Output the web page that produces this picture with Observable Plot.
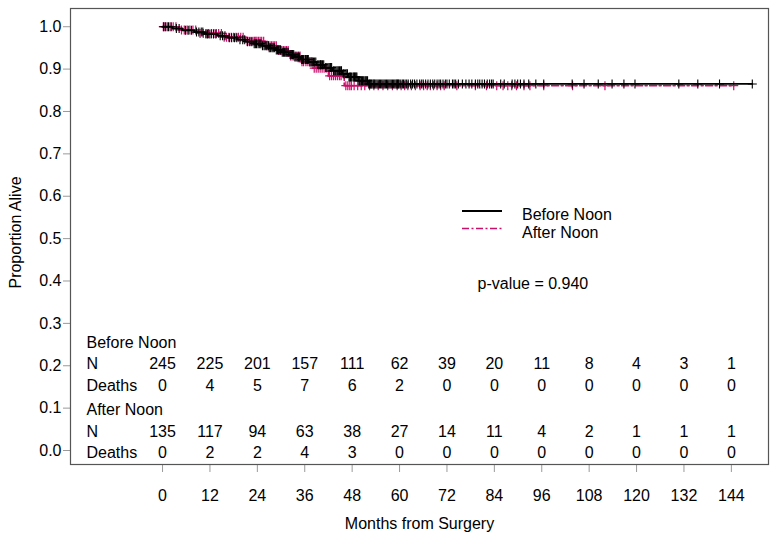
<!DOCTYPE html>
<html>
<head>
<meta charset="utf-8">
<script src="https://cdn.jsdelivr.net/npm/d3@7"></script>
<script src="https://cdn.jsdelivr.net/npm/@observablehq/plot@0.6"></script>
<style>
  html, body { margin: 0; padding: 0; background: #fff; }
  svg [aria-label*="axis"] line, svg [aria-label*="axis tick"] path { stroke: #9a9a9a; }
</style>
</head>
<body>
<div id="chart"></div>
<script>
// ---- Data ----
const groups = ["Before Noon", "After Noon"];
const colors = ["#000000", "#c8106a"];

// Kaplan-Meier step points (month, proportion alive)
const beforeMonths = [0, 2.5, 5, 8, 10.5, 14, 16.5, 19, 21, 23, 25, 27, 28.5, 30, 32, 33.5, 35, 37, 39, 41, 43, 45.5, 47, 49.5, 52, 149.3];
const beforeSurv   = [1, 0.9958, 0.9916, 0.9873, 0.9830, 0.9786, 0.9741, 0.9695, 0.9648, 0.9601, 0.9552, 0.9502, 0.9450, 0.9397, 0.9342, 0.9285, 0.9227, 0.9166, 0.9102, 0.9035, 0.8964, 0.8889, 0.8811, 0.8726, 0.8650, 0.8650];
const afterMonths  = [0, 4, 9, 15, 21, 26, 29, 32, 35, 38, 42, 46, 144.6];
const afterSurv    = [1, 0.9923, 0.9842, 0.9754, 0.9657, 0.9549, 0.9436, 0.9311, 0.9174, 0.9021, 0.8841, 0.8610, 0.8610];

// Censoring times (months)
const beforeCensor = [0.3, 0.8, 1.5, 2.2, 3.5, 4.2, 5.8, 6.5, 7.3, 8.6, 9.2, 9.8, 10.2, 11.0, 11.4, 11.8,
  12.3, 12.9, 13.5, 14.6, 15.2, 15.8, 16.9, 17.5, 18.2, 18.8, 19.6, 20.3, 20.8, 21.5, 22.1, 22.6, 23.2, 23.5, 23.8,
  24.2, 24.6, 24.9, 25.3, 25.7, 26.0, 26.4, 26.8, 27.0, 27.3, 27.7, 28.0, 28.3, 28.8, 29.1, 29.4, 29.7, 29.9, 30.3, 30.6, 30.9, 31.2, 31.5, 31.8, 32.3, 32.6, 32.9, 33.2, 33.5, 33.8, 34.1, 34.4, 34.7, 35.2, 35.4, 35.6, 35.8,
  36.2, 36.4, 36.7, 36.9, 37.3, 37.6, 37.9, 38.2, 38.5, 38.8, 39.3, 39.6, 39.9, 40.0, 40.2, 40.5, 40.8, 41.3, 41.6, 41.9, 42.2, 42.5, 42.8, 43.3, 43.6, 43.9, 44.2, 44.5, 44.8, 45.1, 45.3, 45.7, 45.9, 46.2, 46.5, 46.8, 47.2, 47.4, 47.6, 47.8,
  48.2, 48.4, 48.6, 48.8, 49.0, 49.2, 49.7, 49.9, 50.2, 50.4, 50.6, 50.8, 51.0, 51.3, 51.5, 51.7, 51.9, 52.2, 52.4, 52.6, 52.8, 53.0, 53.3, 53.5, 53.7, 54.0, 54.3, 54.6, 54.9, 55.2, 55.5, 55.8, 56.1, 56.4, 56.7, 57.0, 57.3, 57.6, 57.9, 58.2, 58.5, 58.8, 59.1, 59.3, 59.5, 59.7, 59.9,
  60.3, 60.7, 61.0, 61.4, 61.8, 62.2, 62.8, 63.3, 63.8, 64.4, 65.1, 65.6, 66.0, 66.6, 67.2, 67.8, 68.4, 68.9, 69.5, 70.0, 70.4, 71.0, 71.6,
  72.0, 72.6, 73.4, 73.8, 74.2, 74.9, 75.9, 76.8, 77.6, 78.3, 79.2, 79.8, 80.3, 80.9, 81.5, 82.2, 82.8, 83.3, 83.7,
  85.6, 86.5, 88.5, 89.2, 89.9, 90.6, 91.5, 92.7, 94.5,
  96.5, 103.7, 106.7, 110.3, 113.8, 116.8, 119.6, 130.7, 135.5, 141.0, 149.3];
const afterCensor = [0.2, 0.6, 1.2, 1.9, 2.7, 3.4, 4.8, 5.5, 6.2, 6.9, 7.7, 8.4, 9.5, 10.3, 11.0, 11.6,
  12.4, 13.0, 13.6, 14.2, 14.9, 15.6, 16.2, 16.8, 17.4, 18.0, 18.6, 19.2, 19.8, 20.4, 21.4, 21.9, 22.4, 22.9, 23.3, 23.6, 23.9,
  24.3, 24.7, 25.1, 25.6, 26.4, 26.8, 27.2, 27.6, 28.0, 28.4, 28.8, 29.4, 29.8, 30.2, 30.6, 31.0, 31.4, 31.8, 32.4, 32.8, 33.2, 33.6, 34.0, 34.4, 34.8, 35.3, 35.7,
  36.3, 36.8, 37.3, 37.8, 38.4, 38.9, 39.4, 39.9, 40.4, 40.9, 41.4, 42.3, 42.8, 43.3, 43.8, 44.3, 44.8, 45.2, 46.4, 46.9, 47.4, 47.8,
  48.5, 49.4, 50.3, 51.2, 52.4, 53.5, 54.6, 55.8, 57.0, 58.2, 59.4,
  60.4, 61.3, 62.1, 63.0, 64.0, 65.2, 66.1, 67.0, 67.8, 68.6, 69.5, 70.4, 71.3,
  74.5, 79.2, 82.0, 84.6, 86.2, 87.4, 88.4, 89.6, 91.5, 93.0,
  96.5, 103.8, 112.0, 144.6];

// Risk table
const tableMonths  = [0, 12, 24, 36, 48, 60, 72, 84, 96, 108, 120, 132, 144];
const beforeN      = [245, 225, 201, 157, 111, 62, 39, 20, 11, 8, 4, 3, 1];
const beforeDeaths = [0, 4, 5, 7, 6, 2, 0, 0, 0, 0, 0, 0, 0];
const afterN       = [135, 117, 94, 63, 38, 27, 14, 11, 4, 2, 1, 1, 1];
const afterDeaths  = [0, 2, 2, 4, 3, 0, 0, 0, 0, 0, 0, 0, 0];

const xTicks = tableMonths;
const yTicks = [0, 0.1, 0.2, 0.3, 0.4, 0.5, 0.6, 0.7, 0.8, 0.9, 1.0];
const pValueText = "p-value = 0.940";
const xLabel = "Months from Surgery";
const yLabel = "Proportion Alive";

// ---- Build tables ----
const curves = [
  ...beforeMonths.map((m, i) => ({group: groups[0], month: m, surv: beforeSurv[i]})),
  ...afterMonths.map((m, i) => ({group: groups[1], month: m, surv: afterSurv[i]}))
];
function survAt(months, surv, t) {
  let s = surv[0];
  for (let i = 0; i < months.length; i++) if (months[i] <= t) s = surv[i];
  return s;
}
const censors = [
  ...beforeCensor.map(t => ({group: groups[0], month: t, surv: survAt(beforeMonths, beforeSurv, t)})),
  ...afterCensor.map(t => ({group: groups[1], month: t, surv: survAt(afterMonths, afterSurv, t)}))
];

const plusSymbol = {
  draw(ctx, size) {
    const r = Math.sqrt(size / Math.PI);
    ctx.moveTo(-r, 0); ctx.lineTo(r, 0);
    ctx.moveTo(0, -r); ctx.lineTo(0, r);
  }
};

const FONT = "'Liberation Sans', Arial, sans-serif";
const rowTop = 8; // frame top in px
function row(values, dyPx) {
  return Plot.text(values.map((v, i) => ({month: tableMonths[i], v})), {
    x: "month", text: d => String(d.v), frameAnchor: "top", lineAnchor: "middle", dy: dyPx - rowTop,
    fill: "#000", fontSize: 16
  });
}
function rowLabel(label, dyPx) {
  return Plot.text([label], {frameAnchor: "top-left", lineAnchor: "middle", dx: 16, dy: dyPx - rowTop, textAnchor: "start", fill: "#000", fontSize: 16});
}

const chart = Plot.plot({
  width: 776,
  height: 545,
  marginLeft: 70,
  marginRight: 8,
  marginTop: 8,
  marginBottom: 81,
  style: {fontFamily: FONT, fontSize: "16px", background: "#fff", color: "#000"},
  x: {domain: [-23.3, 153.4], ticks: xTicks, tickSize: 8, tickPadding: 17, label: null},
  y: {domain: [-0.033, 1.043], ticks: yTicks, tickFormat: d3.format(".1f"), tickSize: 7, tickPadding: 2, label: null},
  color: {domain: groups, range: colors},
  marks: [
    Plot.frame({stroke: "#555", strokeWidth: 1.2}),
    Plot.line(curves.filter(d => d.group === groups[1]), {x: "month", y: "surv", curve: "step-after", stroke: colors[1], strokeWidth: 1.6, strokeDasharray: "7,2.5,2,2.5"}),
    Plot.dot(censors.filter(d => d.group === groups[1]), {x: "month", y: "surv", symbol: plusSymbol, r: 4.5, fill: "none", stroke: colors[1], strokeWidth: 1.2}),
    Plot.line(curves.filter(d => d.group === groups[0]), {x: "month", y: "surv", curve: "step-after", stroke: colors[0], strokeWidth: 1.8}),
    Plot.dot(censors.filter(d => d.group === groups[0]), {x: "month", y: "surv", symbol: plusSymbol, r: 4.5, fill: "none", stroke: colors[0], strokeWidth: 1.1}),
    // risk table
    rowLabel(groups[0], 342.5),
    rowLabel("N", 363.5),
    rowLabel("Deaths", 385),
    rowLabel(groups[1], 409),
    rowLabel("N", 431.5),
    rowLabel("Deaths", 452.5),
    row(beforeN, 363.5),
    row(beforeDeaths, 385),
    row(afterN, 431.5),
    row(afterDeaths, 452.5),
    // p-value
    Plot.text([pValueText], {frameAnchor: "top-left", lineAnchor: "middle", dx: 407, dy: 283 - rowTop, textAnchor: "start", fill: "#000", fontSize: 16}),
    // axis titles
    Plot.text([xLabel], {frameAnchor: "bottom", lineAnchor: "middle", textAnchor: "middle", dy: 59, fill: "#000", fontSize: 16}),
    Plot.text([yLabel], {frameAnchor: "left", lineAnchor: "middle", textAnchor: "middle", dx: -55, dy: -4, rotate: -90, fill: "#000", fontSize: 16})
  ]
});

document.getElementById("chart").appendChild(chart);

// ---- Legend (inside the plot area) ----
const svg = d3.select(chart.tagName.toLowerCase() === "svg" ? chart : chart.querySelector("svg"));
const lg = svg.append("g").attr("font-family", FONT).attr("font-size", 16).attr("text-anchor", "start");
const legendItems = [
  {label: groups[0], color: colors[0], dash: null, width: 1.8, y: 211},
  {label: groups[1], color: colors[1], dash: "7,2.5,2,2.5", width: 1.6, y: 228.5}
];
legendItems.forEach((it) => {
  lg.append("line").attr("x1", 462).attr("x2", 502).attr("y1", it.y).attr("y2", it.y)
    .attr("stroke", it.color).attr("stroke-width", it.width).attr("stroke-dasharray", it.dash);
  lg.append("text").attr("x", 522).attr("y", it.y + 4).attr("dy", "0.32em")
    .attr("text-anchor", "start").attr("fill", "#000").text(it.label);
});
</script>
</body>
</html>
